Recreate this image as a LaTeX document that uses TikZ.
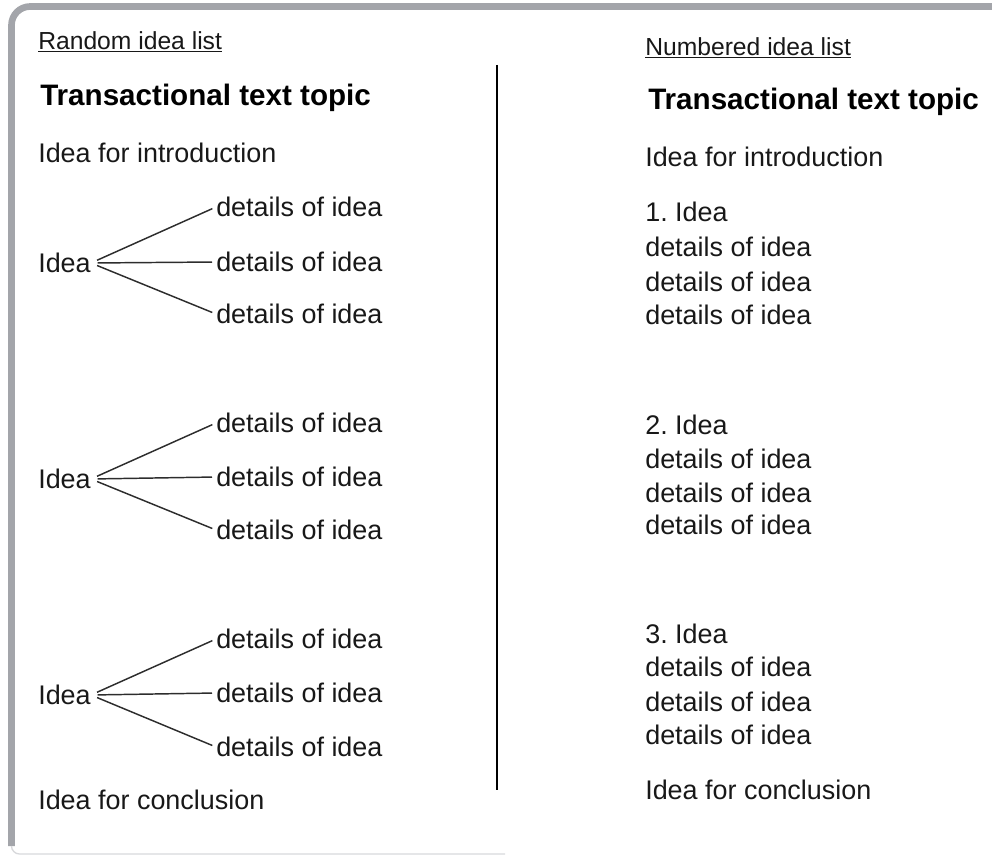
\documentclass[tikz,border=0pt]{standalone}
\usepackage{fontspec}
\setmainfont{Liberation Sans}
\usetikzlibrary{positioning}
\definecolor{framegray}{RGB}{163,165,170}
\definecolor{fadegray}{RGB}{215,216,219}
\definecolor{inkgray}{RGB}{24,24,24}
\definecolor{linegray}{RGB}{45,45,45}
\frenchspacing

\begin{document}
\begin{tikzpicture}[x=0.75pt, y=-0.75pt]
\tikzstyle{txt} = [anchor=west, inner sep=0pt, text=inkgray, font=\fontsize{20.2}{24}\selectfont]
\tikzstyle{heading} = [anchor=west, inner sep=0pt, text=inkgray, font=\fontsize{18.5}{22}\selectfont]
\tikzstyle{topic} = [anchor=west, inner sep=0pt, text=black, font=\fontsize{22.2}{26}\selectfont\bfseries]
\tikzstyle{branch} = [linegray, line width=1.1pt, shorten <=5pt, shorten >=3pt]

\useasboundingbox (0,0) rectangle (992,856);

% frame
\draw [framegray, line width=5pt, rounded corners=14pt] (11.5,846) -- (11.5,6.5) -- (1010,6.5);
\draw [fadegray, line width=1pt] (11.5,846) arc (180:90:8) -- (505,854);

% divider
\draw [black, line width=2.2pt] (497,65) -- (497,790);

% random idea list
\node (rhead) [heading] at (38,42) {\underline{Random idea list}};
\node (rtopic) [topic] at (40,98) {Transactional text topic};
\node (rintro) [txt] at (38,153) {Idea for introduction};

\node (idea1) [txt] at (38,263) {Idea};
\node (det1a) [txt] at (216,207) {details of idea};
\node (det1b) [txt] at (216,262) {details of idea};
\node (det1c) [txt] at (216,314) {details of idea};
\draw [branch] (idea1.east) -- (det1a.west);
\draw [branch] (idea1.east) -- (det1b.west);
\draw [branch] (idea1.east) -- (det1c.west);

\node (idea2) [txt] at (38,479) {Idea};
\node (det2a) [txt] at (216,423) {details of idea};
\node (det2b) [txt] at (216,477) {details of idea};
\node (det2c) [txt] at (216,530) {details of idea};
\draw [branch] (idea2.east) -- (det2a.west);
\draw [branch] (idea2.east) -- (det2b.west);
\draw [branch] (idea2.east) -- (det2c.west);

\node (idea3) [txt] at (38,695) {Idea};
\node (det3a) [txt] at (216,639) {details of idea};
\node (det3b) [txt] at (216,693) {details of idea};
\node (det3c) [txt] at (216,747) {details of idea};
\draw [branch] (idea3.east) -- (det3a.west);
\draw [branch] (idea3.east) -- (det3b.west);
\draw [branch] (idea3.east) -- (det3c.west);

\node (rconcl) [txt] at (38,800) {Idea for conclusion};

% numbered idea list
\node (nhead) [heading] at (645,48) {\underline{Numbered idea list}};
\node (ntopic) [topic] at (648,102) {Transactional text topic};
\node (nintro) [txt] at (645,157) {Idea for introduction};

\node (num1) [txt] at (645,212) {1. Idea};
\node (num1a) [txt] at (645,247) {details of idea};
\node (num1b) [txt] at (645,282) {details of idea};
\node (num1c) [txt] at (645,315) {details of idea};

\node (num2) [txt] at (645,425) {2. Idea};
\node (num2a) [txt] at (645,459) {details of idea};
\node (num2b) [txt] at (645,493) {details of idea};
\node (num2c) [txt] at (645,525) {details of idea};

\node (num3) [txt] at (645,634) {3. Idea};
\node (num3a) [txt] at (645,667) {details of idea};
\node (num3b) [txt] at (645,702) {details of idea};
\node (num3c) [txt] at (645,735) {details of idea};

\node (nconcl) [txt] at (645,790) {Idea for conclusion};
\end{tikzpicture}
\end{document}
